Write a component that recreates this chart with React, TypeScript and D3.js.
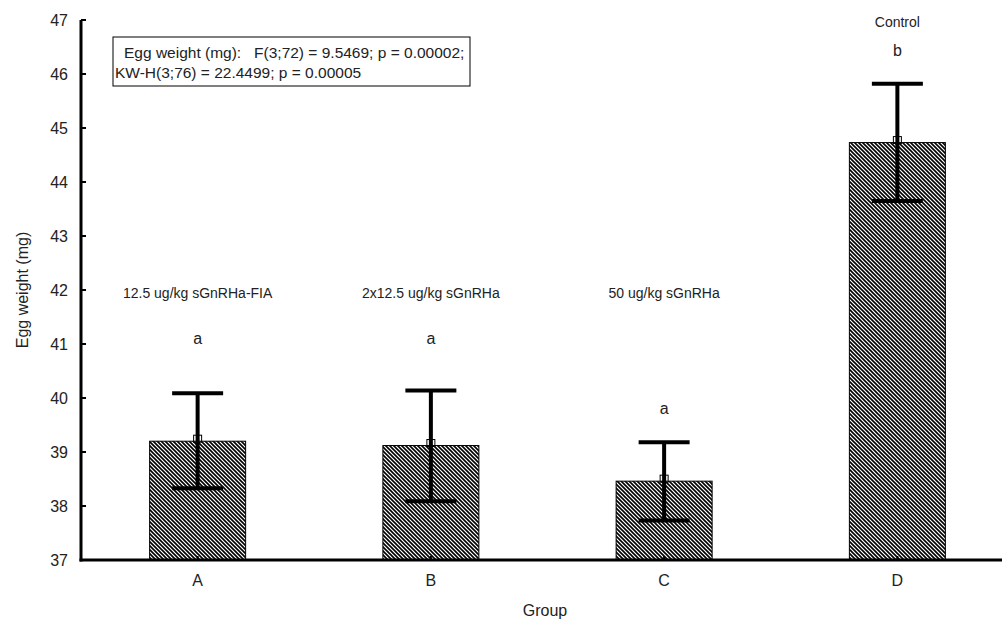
import React from "react";
import * as d3 from "d3";

// Mean egg weight per treatment group with whisker bounds
const groups = ["A", "B", "C", "D"];
const means = [39.2, 39.12, 38.46, 44.73];
const upper = [40.09, 40.14, 39.18, 45.82];
const lower = [38.33, 38.09, 37.73, 43.65];
const treatments = ["12.5 ug/kg sGnRHa-FIA", "2x12.5 ug/kg sGnRHa", "50 ug/kg sGnRHa", "Control"];
const treatmentLabelAt = [41.94, 41.94, 41.94, 46.97];
const letters = ["a", "a", "a", "b"];
const letterAt = [41.1, 41.1, 39.8, 46.43];
const yTicks = [37, 38, 39, 40, 41, 42, 43, 44, 45, 46, 47];
const statLines = [
  "Egg weight (mg):   F(3;72) = 9.5469; p = 0.00002;",
  "KW-H(3;76) = 22.4499; p = 0.00005",
];

const W = 1002;
const H = 619;
const FONT = "'Liberation Sans', Arial, sans-serif";

export default function App() {
  const x = d3.scalePoint<string>().domain(groups).range([81, 1014]).padding(0.5);
  const y = d3.scaleLinear().domain([37, 47]).range([560, 20]);
  const barW = 96;
  const capW = 51;

  return (
    <svg
      width={W}
      height={H}
      style={{ position: "absolute", left: 0, top: 0, background: "#fff" }}
      fontFamily={FONT}
    >
      <defs>
        <pattern id="hatch" patternUnits="userSpaceOnUse" width={4} height={4}>
          <rect width={4} height={4} fill="#fff" />
          <path d="M-1,-1 L5,5 M-1,3 L1,5 M3,-1 L5,1" stroke="#000" strokeWidth={1.6} />
        </pattern>
      </defs>

      {/* bars */}
      {groups.map((g, i) => {
        const cx = x(g)!;
        return (
          <rect
            key={g}
            x={cx - barW / 2}
            y={y(means[i])}
            width={barW}
            height={y(37) - y(means[i])}
            fill="url(#hatch)"
            stroke="#000"
            strokeWidth={1}
          />
        );
      })}

      {/* whiskers */}
      {groups.map((g, i) => {
        const cx = x(g)!;
        return (
          <g key={g} stroke="#000" strokeWidth={4}>
            <line x1={cx} x2={cx} y1={y(upper[i])} y2={y(lower[i])} />
            <line x1={cx - capW / 2} x2={cx + capW / 2} y1={y(upper[i])} y2={y(upper[i])} />
            <line x1={cx - capW / 2} x2={cx + capW / 2} y1={y(lower[i])} y2={y(lower[i])} />
          </g>
        );
      })}

      {/* mean markers */}
      {groups.map((g, i) => (
        <rect
          key={g}
          x={x(g)! - 4}
          y={y(means[i]) - 6}
          width={8}
          height={7}
          fill="none"
          stroke="#000"
          strokeWidth={1}
        />
      ))}

      {/* axes */}
      <line x1={81} x2={81} y1={y(47)} y2={y(37) + 1.5} stroke="#000" strokeWidth={3} />
      <line x1={79.5} x2={W} y1={y(37)} y2={y(37)} stroke="#000" strokeWidth={3} />
      {yTicks.map((t) => (
        <g key={t}>
          <line x1={81} x2={86} y1={y(t)} y2={y(t)} stroke="#000" strokeWidth={2} />
          <text x={68} y={y(t)} textAnchor="end" dominantBaseline="central" fontSize={16} fill="#222">
            {t}
          </text>
        </g>
      ))}
      {groups.map((g) => (
        <g key={g}>
          <line x1={x(g)!} x2={x(g)!} y1={y(37)} y2={y(37) - 4} stroke="#000" strokeWidth={2} />
          <text x={x(g)!} y={580} textAnchor="middle" dominantBaseline="central" fontSize={16} fill="#222">
            {g}
          </text>
        </g>
      ))}

      <text x={545} y={610} textAnchor="middle" dominantBaseline="central" fontSize={16} fill="#222">
        Group
      </text>
      <text
        transform={`translate(22,290) rotate(-90)`}
        textAnchor="middle"
        dominantBaseline="central"
        fontSize={16}
        fill="#222"
      >
        Egg weight (mg)
      </text>

      {/* group annotations */}
      {groups.map((g, i) => (
        <g key={g}>
          <text x={x(g)!} y={y(treatmentLabelAt[i])} textAnchor="middle" dominantBaseline="central" fontSize={14} fill="#222">
            {treatments[i]}
          </text>
          <text x={x(g)!} y={y(letterAt[i])} textAnchor="middle" dominantBaseline="central" fontSize={16} fill="#222">
            {letters[i]}
          </text>
        </g>
      ))}

      {/* test statistics box */}
      <rect x={113} y={37} width={357} height={49} fill="#fff" stroke="#000" strokeWidth={1} />
      <text x={124} y={52} dominantBaseline="central" fontSize={15.5} fill="#222" style={{ whiteSpace: "pre" }}>
        {statLines[0]}
      </text>
      <text x={115} y={72} dominantBaseline="central" fontSize={15.5} fill="#222">
        {statLines[1]}
      </text>
    </svg>
  );
}
